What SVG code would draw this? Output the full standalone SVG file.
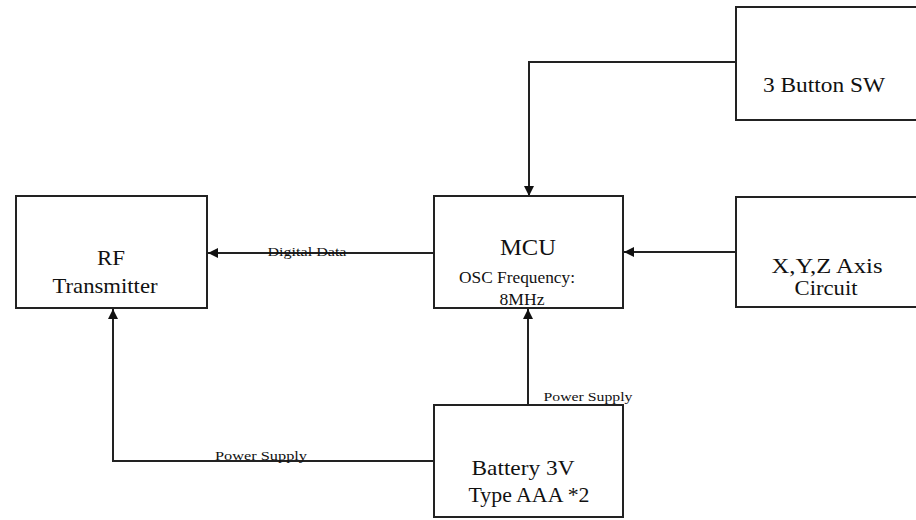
<svg xmlns="http://www.w3.org/2000/svg" width="916" height="520" viewBox="0 0 916 520">
<style>
.box{fill:#fff;stroke:#222;stroke-width:2}
.ln{fill:none;stroke:#222;stroke-width:2}
text{font-family:'Liberation Serif','Times New Roman','DejaVu Serif',serif;fill:#111;text-anchor:middle}
.s{font-size:13px}
.l{font-size:22px}
.m{font-size:17px}
</style>
<defs>
<marker id="ah" markerUnits="userSpaceOnUse" markerWidth="11" markerHeight="10" refX="10" refY="5" orient="auto">
<path d="M0,0 L10,5 L0,10 z" fill="#111"/>
</marker>
</defs>
<rect width="916" height="520" fill="#fff"/>
<g id="connectors">
<polyline class="ln" points="736,62 529,62 529,196" marker-end="url(#ah)"/>
<line class="ln" x1="736" y1="252" x2="624" y2="252" marker-end="url(#ah)"/>
<line class="ln" x1="434" y1="253" x2="208" y2="253" marker-end="url(#ah)"/>
<line class="ln" x1="528" y1="405" x2="528" y2="309" marker-end="url(#ah)"/>
<polyline class="ln" points="434,461 113,461 113,309" marker-end="url(#ah)"/>
<text class="s" x="307" y="256" textLength="79" lengthAdjust="spacingAndGlyphs">Digital Data</text>
<text class="s" x="588" y="401" textLength="89" lengthAdjust="spacingAndGlyphs">Power Supply</text>
<text class="s" x="261" y="460" textLength="92" lengthAdjust="spacingAndGlyphs">Power Supply</text>
</g>
<g id="btn">
<rect class="box" x="736" y="7" width="200" height="113"/>
<text class="l" x="824" y="92" textLength="122" lengthAdjust="spacingAndGlyphs">3 Button SW</text>
</g>
<g id="mcu">
<rect class="box" x="434" y="196" width="189" height="112"/>
<text x="528" y="255" style="font-size:24px" textLength="56" lengthAdjust="spacingAndGlyphs">MCU</text>
<text class="m" x="517" y="283" textLength="116" lengthAdjust="spacingAndGlyphs">OSC Frequency:</text>
<text class="m" x="522" y="305" textLength="45" lengthAdjust="spacingAndGlyphs">8MHz</text>
</g>
<g id="rf">
<rect class="box" x="16" y="196" width="191" height="112"/>
<text class="l" x="111" y="265" textLength="28" lengthAdjust="spacingAndGlyphs">RF</text>
<text class="l" x="105" y="293" textLength="105" lengthAdjust="spacingAndGlyphs">Transmitter</text>
</g>
<g id="xyz">
<rect class="box" x="736" y="197" width="200" height="110"/>
<text class="l" x="827" y="273" textLength="111" lengthAdjust="spacingAndGlyphs">X,Y,Z Axis</text>
<text x="826" y="295" style="font-size:21px" textLength="63" lengthAdjust="spacingAndGlyphs">Circuit</text>
</g>
<g id="battery">
<rect class="box" x="434" y="405" width="189" height="112"/>
<text class="l" x="523" y="475" textLength="103" lengthAdjust="spacingAndGlyphs">Battery 3V</text>
<text class="l" x="529" y="502" textLength="121" lengthAdjust="spacingAndGlyphs">Type AAA *2</text>
</g>
</svg>
